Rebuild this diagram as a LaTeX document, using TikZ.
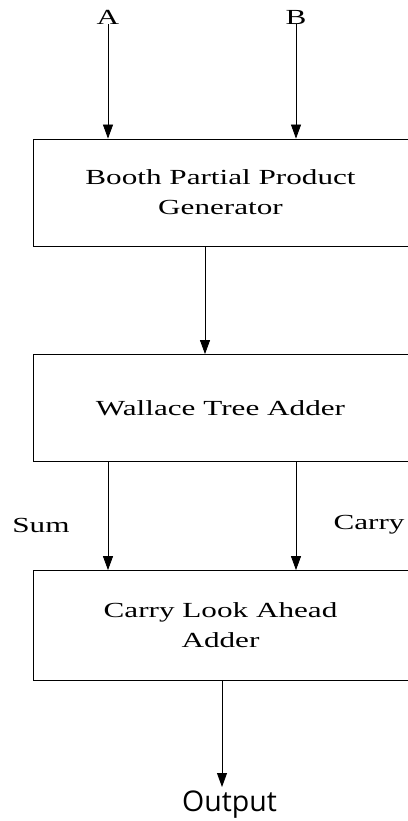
\documentclass[tikz,border=0pt]{standalone}
\usepackage{fontspec}
\setmainfont{Liberation Serif}[FakeStretch=1.45]
\newfontfamily\outfont{Open Sans}
\usepackage{tikz}
\usetikzlibrary{positioning, arrows.meta}

\tikzset{
  block/.style={draw, line width=0.8pt, minimum width=375pt, minimum height=107pt, align=center},
  sig/.style={inner sep=0pt},
  flow/.style={-{Triangle[length=14pt,width=10pt]}, line width=0.8pt}
}

\begin{document}
\begin{tikzpicture}[x=1pt, y=-1pt, node distance=215.5pt, font=\fontsize{21.5}{30}\selectfont]
                    \useasboundingbox (0,0) rectangle (407,821);
                    \node (booth) [block] at (220.5,192.5) {Booth Partial Product\\Generator};
                    \node (wallace) [block, below of=booth] {Wallace Tree Adder};
                    \node (cla) [block, below of=wallace, minimum height=110pt, yshift=-2pt] {Carry Look Ahead\\Adder};
                    \node (inA) [sig] at (108,17) {A};
                    \node (inB) [sig] at (296,17) {B};
                    \node (sum) [sig] at (41,525) {Sum};
                    \node (carry) [sig] at (369,525) {Carry};
                    \node (out) [sig, font=\outfont\fontsize{28.5}{30}\selectfont] at (229.5,805) {Output};
                    \coordinate (outtip) at (222,787);
                    \draw[flow] (inA) -- (inA |- booth.north);
                    \draw[flow] (inB) -- (inB |- booth.north);
                    \draw[flow] ([xshift=-15.5pt]booth.south) -- ([xshift=-15.5pt]wallace.north);
                    \draw[flow] (wallace.south -| inA) -- (cla.north -| inA);
                    \draw[flow] (wallace.south -| inB) -- (cla.north -| inB);
                    \draw[flow] (cla.south -| outtip) -- (outtip);
                \end{tikzpicture}
\end{document}
